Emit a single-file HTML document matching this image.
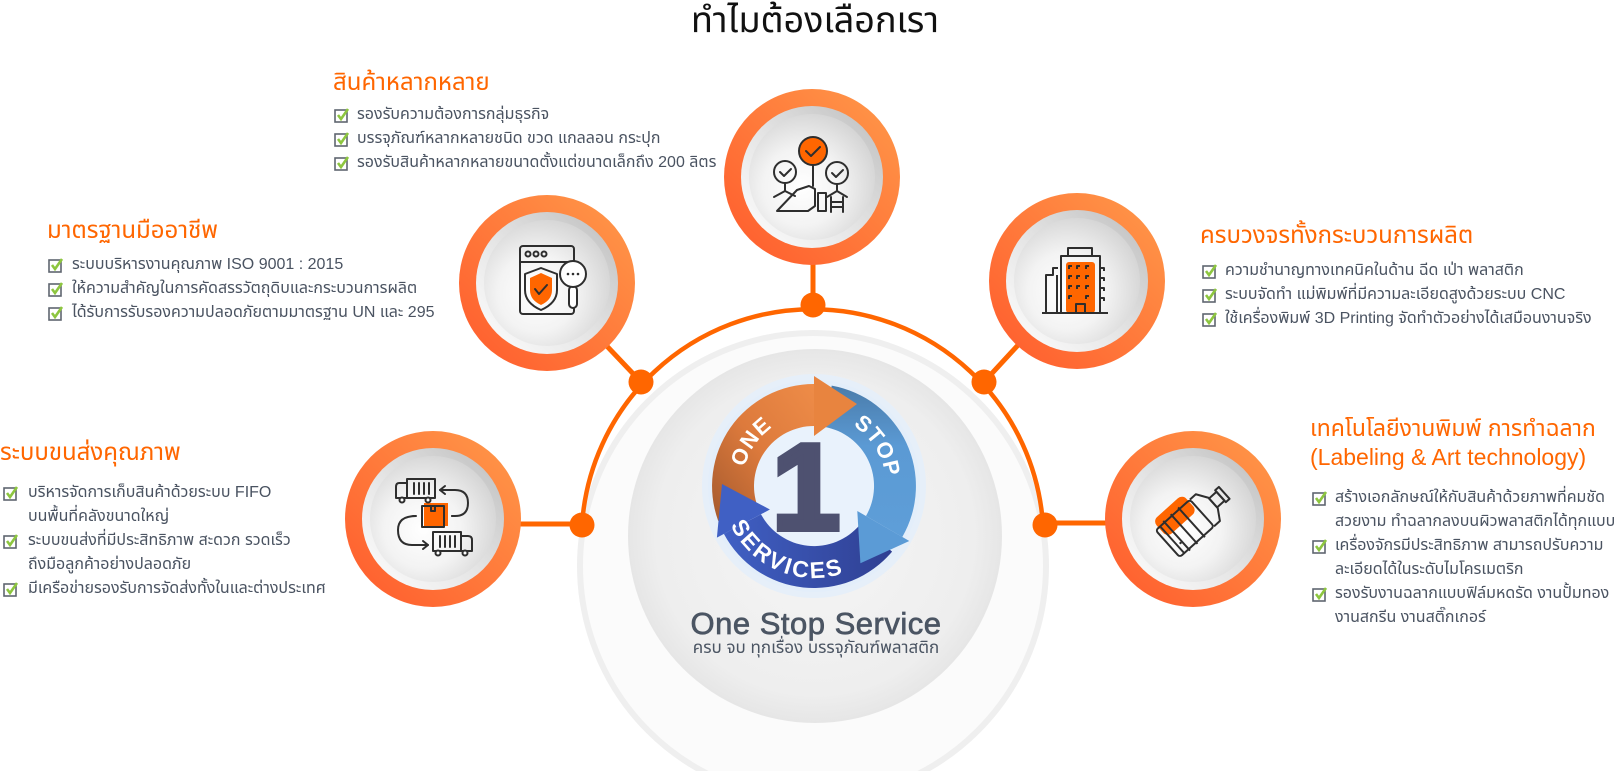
<!DOCTYPE html>
<html><head><meta charset="utf-8">
<style>
html,body{margin:0;padding:0;background:#fff;}
#wrap{position:relative;width:1615px;height:771px;overflow:hidden;background:#fff;
font-family:"Liberation Sans","Noto Sans Thai","Noto Sans Thai UI","Loma","Garuda","DejaVu Sans",sans-serif;}
svg.bg{position:absolute;left:0;top:0;}
.t{position:absolute;white-space:nowrap;}
.h{color:#ff6600;font-size:24px;line-height:30px;}
.row{position:relative;height:24px;line-height:24px;font-size:16px;color:#4a5361;white-space:nowrap;}
.row svg{position:absolute;top:4px;}
</style></head><body>
<div id="wrap">
<svg class="bg" width="1615" height="771" viewBox="0 0 1615 771" xmlns="http://www.w3.org/2000/svg">
<defs>
<linearGradient id="og" x1="1" y1="0" x2="0" y2="1">
<stop offset="0" stop-color="#ff9a4a"/><stop offset="1" stop-color="#ff5a2c"/></linearGradient>
<linearGradient id="bev" x1="1" y1="0" x2="0" y2="1">
<stop offset="0" stop-color="#bdbdbd"/><stop offset="0.55" stop-color="#e6e6e6"/><stop offset="1" stop-color="#ffffff"/></linearGradient>
<radialGradient id="disk" cx="0.42" cy="0.58" r="0.62">
<stop offset="0" stop-color="#ffffff"/><stop offset="0.5" stop-color="#f3f3f3"/><stop offset="1" stop-color="#d4d4d4"/></radialGradient>
<radialGradient id="big" cx="0.5" cy="0.5" r="0.5">
<stop offset="0" stop-color="#f5f5f5"/><stop offset="0.85" stop-color="#eeeeee"/><stop offset="1" stop-color="#e6e6e6"/></radialGradient>
<linearGradient id="orb" x1="1" y1="0" x2="0" y2="1">
<stop offset="0" stop-color="#ee8c48"/><stop offset="0.5" stop-color="#dd7a3c"/><stop offset="1" stop-color="#a55a2e"/></linearGradient>
<linearGradient id="lbl" x1="0" y1="0" x2="0" y2="1">
<stop offset="0" stop-color="#4a7cab"/><stop offset="0.4" stop-color="#5b9ad4"/><stop offset="1" stop-color="#5e9ed8"/></linearGradient>
<linearGradient id="dbl" x1="1" y1="0" x2="0" y2="0">
<stop offset="0" stop-color="#2f3f92"/><stop offset="1" stop-color="#4060c4"/></linearGradient>
<path id="pONE" d="M742.3,479.7 A72,72 0 0 1 783.6,420.7"/>
<path id="pSTOP" d="M847.8,422.4 A72,72 0 0 1 886,483.5"/>
<path id="pSERV" d="M725.1,509.8 A92,92 0 0 0 860,565.7"/>
</defs>

<!-- big background circles -->
<circle cx="813" cy="566" r="233" fill="#fbfbfb" stroke="#efefef" stroke-width="6"/>
<circle cx="815" cy="536" r="187" fill="url(#big)"/>

<!-- orange arc -->
<path d="M582,525 A231,231 0 0 1 1043,525" fill="none" stroke="#ff6600" stroke-width="4.5"/>

<!-- connectors -->
<g stroke="#ff6600" stroke-width="5" fill="none">
<line x1="813" y1="180" x2="813" y2="305"/>
<line x1="547" y1="283" x2="641" y2="382"/>
<line x1="1077" y1="281" x2="984" y2="382"/>
<line x1="433" y1="524" x2="582" y2="524"/>
<line x1="1193" y1="523" x2="1045" y2="523"/>
</g>
<g fill="#ff6600">
<circle cx="813" cy="305" r="12.5"/>
<circle cx="641" cy="382" r="12.5"/>
<circle cx="984" cy="382" r="12.5"/>
<circle cx="582" cy="525" r="12.5"/>
<circle cx="1045" cy="525" r="12.5"/>
</g>

<!-- node circles -->
<g>
<circle cx="812" cy="177" r="88" fill="url(#og)"/><circle cx="812" cy="177" r="71" fill="url(#bev)"/><circle cx="812" cy="177" r="63" fill="url(#disk)"/>
<circle cx="547" cy="283" r="88" fill="url(#og)"/><circle cx="547" cy="283" r="71" fill="url(#bev)"/><circle cx="547" cy="283" r="63" fill="url(#disk)"/>
<circle cx="1077" cy="281" r="88" fill="url(#og)"/><circle cx="1077" cy="281" r="71" fill="url(#bev)"/><circle cx="1077" cy="281" r="63" fill="url(#disk)"/>
<circle cx="433" cy="519" r="88" fill="url(#og)"/><circle cx="433" cy="519" r="71" fill="url(#bev)"/><circle cx="433" cy="519" r="63" fill="url(#disk)"/>
<circle cx="1193" cy="519" r="88" fill="url(#og)"/><circle cx="1193" cy="519" r="71" fill="url(#bev)"/><circle cx="1193" cy="519" r="63" fill="url(#disk)"/>
</g>

<!-- top icon: people with checks -->
<g stroke="#2e2e2e" stroke-width="2" fill="none" stroke-linecap="round" stroke-linejoin="round">
<circle cx="813" cy="151" r="14" fill="#ff6600"/>
<path d="M806,151 l5,5 l9,-9"/>
<circle cx="785" cy="172" r="11"/><path d="M780,172 l4,4 l7,-7"/>
<circle cx="837" cy="173" r="11"/><path d="M832,173 l4,4 l7,-7"/>
<line x1="813" y1="165" x2="813" y2="186"/>
<line x1="785" y1="183" x2="785" y2="190"/><path d="M774,197 L785,191 L795,196"/>
<path d="M777,211 L797,190 L809,186 L815,189 L815,206 L808,211 Z"/>
<rect x="818" y="193" width="8" height="18"/>
<line x1="837" y1="184" x2="837" y2="190"/><path d="M827,197 L837,191 L847,197"/>
<line x1="831" y1="197" x2="831" y2="212"/><line x1="843" y1="197" x2="843" y2="212"/>
<line x1="831" y1="202" x2="843" y2="202"/><line x1="831" y1="207" x2="843" y2="207"/>
</g>

<!-- upper-left icon: window shield magnifier -->
<g stroke="#2e2e2e" stroke-width="2" fill="none" stroke-linecap="round" stroke-linejoin="round">
<rect x="520" y="246" width="54" height="68" rx="3"/>
<line x1="520" y1="262" x2="574" y2="262"/>
<circle cx="528" cy="254" r="2.5"/><circle cx="536" cy="254" r="2.5"/><circle cx="544" cy="254" r="2.5"/>
<path d="M541,268 L557,274 L557,290 Q557,303 541,310 Q525,303 525,290 L525,274 Z"/>
<path d="M541,273 L552,278 L552,290 Q552,300 541,305 Q530,300 530,290 L530,278 Z" fill="#ff6600" stroke="none"/>
<path d="M535,289 l4,5 l8,-9"/>
<rect x="569" y="286" width="8" height="22" rx="4" fill="#fff"/>
<circle cx="573" cy="274" r="13" fill="#fff"/>
</g>
<g fill="#2e2e2e"><circle cx="568" cy="274" r="1.3"/><circle cx="573" cy="274" r="1.3"/><circle cx="578" cy="274" r="1.3"/></g>

<!-- upper-right icon: building -->
<rect x="1066" y="262" width="29" height="51" rx="3" fill="#ff6600"/>
<g stroke="#2e2e2e" stroke-width="2" fill="none" stroke-linejoin="round">
<line x1="1042" y1="313" x2="1108" y2="313"/>
<path d="M1046,313 L1046,275 L1053,275 L1053,268 L1058,268"/>
<path d="M1057,275 L1057,313"/>
<rect x="1061" y="256" width="39" height="57"/>
<rect x="1068" y="248" width="24" height="8"/>
<rect x="1076" y="304" width="9" height="9"/>
<path d="M1100,268 h4 v3 M1100,278 h4 v3 M1100,288 h4 v3 M1100,298 h4 v3"/>
<path d="M1069,269 v-3 h3 M1077,269 v-3 h3 M1086,269 v-3 h3 M1069,279 v-3 h3 M1077,279 v-3 h3 M1086,279 v-3 h3 M1069,289 v-3 h3 M1077,289 v-3 h3 M1086,289 v-3 h3 M1069,299 v-3 h3 M1086,299 v-3 h3"/>
</g>

<!-- right icon: bottle -->
<g transform="translate(1193,521) rotate(-42)">
<rect x="-30" y="-27" width="40" height="22" rx="6" fill="#ff6600"/>
<g stroke="#2e2e2e" stroke-width="2" fill="none" stroke-linejoin="round">
<rect x="-34" y="-18" width="46" height="36" rx="3"/>
<line x1="-28" y1="-18" x2="-28" y2="18"/>
<path d="M-22,-20 v40 M-12,-20 v40 M-2,-20 v40"/>
<path d="M12,-18 L20,-18 L27,-7 L27,7 L20,18 L12,18"/>
<rect x="27" y="-6" width="10" height="12"/>
<rect x="37" y="-8" width="5" height="16"/>
</g>
<circle cx="-24" cy="8" r="1.2" fill="#2e2e2e"/>
</g>

<!-- left icon: trucks -->
<rect x="424" y="503" width="24" height="23" fill="#ff6600"/>
<g stroke="#2e2e2e" stroke-width="2" fill="none" stroke-linecap="round" stroke-linejoin="round">
<rect x="407" y="479" width="28" height="19"/>
<path d="M407,483 L399,483 Q396,483 396,487 L396,498 L407,498"/>
<circle cx="402" cy="500" r="2.5" fill="#fff"/><circle cx="428" cy="500" r="2.5" fill="#fff"/>
<path d="M414,483 v11 M419,483 v11 M424,483 v11 M429,483 v11"/>
<path d="M440,490 L455,490 Q468,490 468,503 Q468,516 455,516 L452,516"/>
<path d="M445,486 L440,490 L445,494"/>
<rect x="422" y="506" width="22" height="21"/>
<path d="M431,506 v5 h4 v-5"/>
<path d="M413,516 h2 M452,516 h2" />
<rect x="433" y="532" width="28" height="19"/>
<path d="M461,536 L468,536 Q472,536 472,540 L472,551 L461,551"/>
<circle cx="438" cy="553" r="2.5" fill="#fff"/><circle cx="465" cy="553" r="2.5" fill="#fff"/>
<path d="M440,536 v11 M445,536 v11 M450,536 v11 M455,536 v11"/>
<path d="M416,516 Q398,516 398,530 Q398,545 412,545 L428,545"/>
<path d="M423,541 L428,545 L423,549"/>
</g>

<!-- logo -->
<circle cx="814" cy="486" r="112" fill="#e6eff9"/>
<circle cx="814" cy="486" r="106" fill="#e3eefa"/>
<circle cx="814" cy="486" r="60" fill="#e9f2fc"/>
<path d="M718.2,520.9 A102,102 0 0 1 814,384 L814,426 A60,60 0 0 0 757.6,506.5 Z" fill="url(#orb)"/>
<path d="M831.7,385.6 A102,102 0 0 1 902.3,537 L866,516 A60,60 0 0 0 824.4,426.9 Z" fill="url(#lbl)"/>
<path d="M892.1,551.6 A102,102 0 0 1 723.9,533.9 L761,514.2 A60,60 0 0 0 860,524.6 Z" fill="url(#dbl)"/>
<polygon points="814,376 814,436 857,404" fill="#e8843f"/>
<polygon points="909.3,541 857.3,511 860.4,563.2" fill="#5b9bd6"/>
<polygon points="716.9,537.6 769.9,509.5 722,484" fill="#4060c4"/>
<text x="806" y="529" text-anchor="middle" font-family="Liberation Sans, sans-serif" font-weight="bold" font-size="122" fill="#4e5170" stroke="#4e5170" stroke-width="6" stroke-linejoin="miter">1</text>
<g font-family="Liberation Sans, sans-serif" font-weight="bold" font-size="22" fill="#ffffff">
<text letter-spacing="1"><textPath href="#pONE" startOffset="50%" text-anchor="middle">ONE</textPath></text>
<text letter-spacing="1"><textPath href="#pSTOP" startOffset="50%" text-anchor="middle">STOP</textPath></text>
<text font-size="23" letter-spacing="2.5"><textPath href="#pSERV" startOffset="50%" text-anchor="middle">SERVICES</textPath></text>
</g>
<text x="816" y="634" text-anchor="middle" font-family="Liberation Sans, sans-serif" font-size="31" fill="#4b5563" stroke="#4b5563" stroke-width="0.7" letter-spacing="0.5">One Stop Service</text>
</svg>

<!-- title -->
<div class="t" style="left:615px;width:400px;top:-2px;text-align:center;font-size:36px;line-height:44px;color:#111;">ทำไมต้องเลือกเรา</div>

<!-- logo subtitle -->
<div class="t" style="left:666px;width:300px;top:637px;text-align:center;font-size:17px;line-height:22px;color:#4b5563;">ครบ จบ ทุกเรื่อง บรรจุภัณฑ์พลาสติก</div>

<!-- block A -->
<div class="t h" style="left:333px;top:68px;">สินค้าหลากหลาย</div>
<div class="t" style="left:334px;top:103px;">
<div class="row"><svg width="16" height="16"><rect x="1" y="3" width="12" height="12" fill="none" stroke="#5f6670" stroke-width="1.6"/><path d="M4,8 L7,12 L14,2" fill="none" stroke="#8dc63f" stroke-width="2.6"/></svg><span style="margin-left:23px">รองรับความต้องการกลุ่มธุรกิจ</span></div>
<div class="row"><svg width="16" height="16"><rect x="1" y="3" width="12" height="12" fill="none" stroke="#5f6670" stroke-width="1.6"/><path d="M4,8 L7,12 L14,2" fill="none" stroke="#8dc63f" stroke-width="2.6"/></svg><span style="margin-left:23px">บรรจุภัณฑ์หลากหลายชนิด ขวด แกลลอน กระปุก</span></div>
<div class="row"><svg width="16" height="16"><rect x="1" y="3" width="12" height="12" fill="none" stroke="#5f6670" stroke-width="1.6"/><path d="M4,8 L7,12 L14,2" fill="none" stroke="#8dc63f" stroke-width="2.6"/></svg><span style="margin-left:23px">รองรับสินค้าหลากหลายขนาดตั้งแต่ขนาดเล็กถึง 200 ลิตร</span></div>
</div>

<!-- block B -->
<div class="t h" style="left:47px;top:216px;">มาตรฐานมืออาชีพ</div>
<div class="t" style="left:48px;top:253px;">
<div class="row"><svg width="16" height="16"><rect x="1" y="3" width="12" height="12" fill="none" stroke="#5f6670" stroke-width="1.6"/><path d="M4,8 L7,12 L14,2" fill="none" stroke="#8dc63f" stroke-width="2.6"/></svg><span style="margin-left:24px">ระบบบริหารงานคุณภาพ ISO 9001 : 2015</span></div>
<div class="row"><svg width="16" height="16"><rect x="1" y="3" width="12" height="12" fill="none" stroke="#5f6670" stroke-width="1.6"/><path d="M4,8 L7,12 L14,2" fill="none" stroke="#8dc63f" stroke-width="2.6"/></svg><span style="margin-left:24px">ให้ความสำคัญในการคัดสรรวัตถุดิบและกระบวนการผลิต</span></div>
<div class="row"><svg width="16" height="16"><rect x="1" y="3" width="12" height="12" fill="none" stroke="#5f6670" stroke-width="1.6"/><path d="M4,8 L7,12 L14,2" fill="none" stroke="#8dc63f" stroke-width="2.6"/></svg><span style="margin-left:24px">ได้รับการรับรองความปลอดภัยตามมาตรฐาน UN และ 295</span></div>
</div>

<!-- block C -->
<div class="t h" style="left:0px;top:438px;">ระบบขนส่งคุณภาพ</div>
<div class="t" style="left:3px;top:481px;">
<div class="row"><svg width="16" height="16"><rect x="1" y="3" width="12" height="12" fill="none" stroke="#5f6670" stroke-width="1.6"/><path d="M4,8 L7,12 L14,2" fill="none" stroke="#8dc63f" stroke-width="2.6"/></svg><span style="margin-left:25px">บริหารจัดการเก็บสินค้าด้วยระบบ FIFO</span></div>
<div class="row"><span style="margin-left:25px">บนพื้นที่คลังขนาดใหญ่</span></div>
<div class="row"><svg width="16" height="16"><rect x="1" y="3" width="12" height="12" fill="none" stroke="#5f6670" stroke-width="1.6"/><path d="M4,8 L7,12 L14,2" fill="none" stroke="#8dc63f" stroke-width="2.6"/></svg><span style="margin-left:25px">ระบบขนส่งที่มีประสิทธิภาพ สะดวก รวดเร็ว</span></div>
<div class="row"><span style="margin-left:25px">ถึงมือลูกค้าอย่างปลอดภัย</span></div>
<div class="row"><svg width="16" height="16"><rect x="1" y="3" width="12" height="12" fill="none" stroke="#5f6670" stroke-width="1.6"/><path d="M4,8 L7,12 L14,2" fill="none" stroke="#8dc63f" stroke-width="2.6"/></svg><span style="margin-left:25px">มีเครือข่ายรองรับการจัดส่งทั้งในและต่างประเทศ</span></div>
</div>

<!-- block D -->
<div class="t h" style="left:1200px;top:221px;">ครบวงจรทั้งกระบวนการผลิต</div>
<div class="t" style="left:1202px;top:259px;">
<div class="row"><svg width="16" height="16"><rect x="1" y="3" width="12" height="12" fill="none" stroke="#5f6670" stroke-width="1.6"/><path d="M4,8 L7,12 L14,2" fill="none" stroke="#8dc63f" stroke-width="2.6"/></svg><span style="margin-left:23px">ความชำนาญทางเทคนิคในด้าน ฉีด เป่า พลาสติก</span></div>
<div class="row"><svg width="16" height="16"><rect x="1" y="3" width="12" height="12" fill="none" stroke="#5f6670" stroke-width="1.6"/><path d="M4,8 L7,12 L14,2" fill="none" stroke="#8dc63f" stroke-width="2.6"/></svg><span style="margin-left:23px">ระบบจัดทำ แม่พิมพ์ที่มีความละเอียดสูงด้วยระบบ CNC</span></div>
<div class="row"><svg width="16" height="16"><rect x="1" y="3" width="12" height="12" fill="none" stroke="#5f6670" stroke-width="1.6"/><path d="M4,8 L7,12 L14,2" fill="none" stroke="#8dc63f" stroke-width="2.6"/></svg><span style="margin-left:23px">ใช้เครื่องพิมพ์ 3D Printing จัดทำตัวอย่างได้เสมือนงานจริง</span></div>
</div>

<!-- block E -->
<div class="t h" style="left:1310px;top:414px;font-size:23px;line-height:29px;">เทคโนโลยีงานพิมพ์ การทำฉลาก<br>(Labeling &amp; Art technology)</div>
<div class="t" style="left:1312px;top:486px;">
<div class="row"><svg width="16" height="16"><rect x="1" y="3" width="12" height="12" fill="none" stroke="#5f6670" stroke-width="1.6"/><path d="M4,8 L7,12 L14,2" fill="none" stroke="#8dc63f" stroke-width="2.6"/></svg><span style="margin-left:23px">สร้างเอกลักษณ์ให้กับสินค้าด้วยภาพที่คมชัด</span></div>
<div class="row"><span style="margin-left:23px">สวยงาม ทำฉลากลงบนผิวพลาสติกได้ทุกแบบ</span></div>
<div class="row"><svg width="16" height="16"><rect x="1" y="3" width="12" height="12" fill="none" stroke="#5f6670" stroke-width="1.6"/><path d="M4,8 L7,12 L14,2" fill="none" stroke="#8dc63f" stroke-width="2.6"/></svg><span style="margin-left:23px">เครื่องจักรมีประสิทธิภาพ สามารถปรับความ</span></div>
<div class="row"><span style="margin-left:23px">ละเอียดได้ในระดับไมโครเมตริก</span></div>
<div class="row"><svg width="16" height="16"><rect x="1" y="3" width="12" height="12" fill="none" stroke="#5f6670" stroke-width="1.6"/><path d="M4,8 L7,12 L14,2" fill="none" stroke="#8dc63f" stroke-width="2.6"/></svg><span style="margin-left:23px">รองรับงานฉลากแบบฟิล์มหดรัด งานปั้มทอง</span></div>
<div class="row"><span style="margin-left:23px">งานสกรีน งานสติ๊กเกอร์</span></div>
</div>

</div>
</body></html>
